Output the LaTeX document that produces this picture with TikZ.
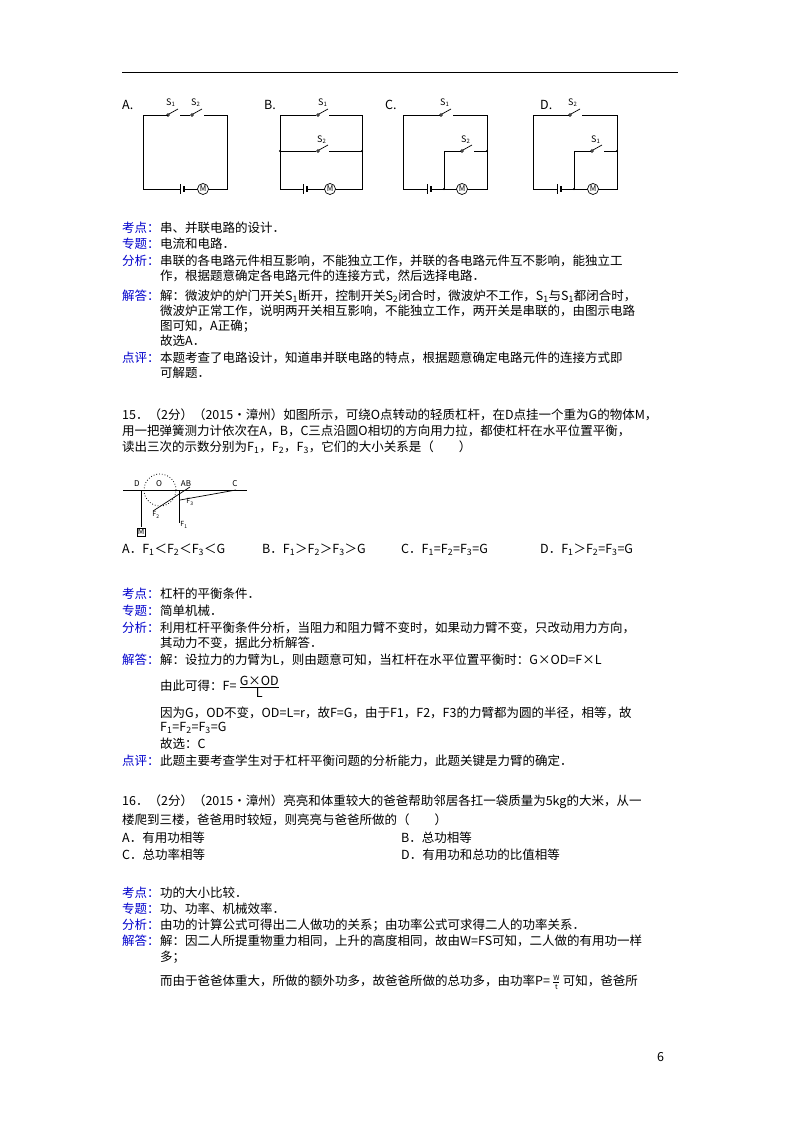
\documentclass[tikz,border=0pt]{standalone}
\usepackage{fontspec}
\setmainfont{Noto Sans CJK SC}
\begin{document}
\begin{tikzpicture}[x=1pt,y=-1pt,
 t/.style={anchor=west,inner sep=0pt,font=\fontsize{12.5}{13}\selectfont},
 lb/.style={t,text=blue!80!black},
 w/.style={line width=0.7pt},
 sm/.style={inner sep=0pt,font=\fontsize{8}{8}\selectfont},
]
\useasboundingbox (0,0) rectangle (800,1132);
\fill[white] (0,0) rectangle (800,1132);
\draw[line width=0.8pt] (122,72) -- (678,72);
\def\swt#1#2{\draw[w] (#1,#2) circle (1.3pt); \draw[w] (#1+1,#2-1) -- (#1+10,#2-6);}
\def\bat#1#2{\draw[w] (#1,#2-5) -- (#1,#2+5); \draw[line width=1.4pt] (#1+4,#2-3) -- (#1+4,#2+3);}
\def\mot#1#2{\draw[w,fill=white] (#1,#2) circle (5.5pt); \node[inner sep=0pt,font=\fontsize{8}{8}\selectfont] at (#1,#2) {M};}
% A
\node[t] (la) at (122,105) {A.};
\draw[w] (168,115) -- (143,115) -- (143,189) -- (180,189);
\draw[w] (184,189) -- (227,189) -- (227,115) -- (204,115);
\draw[w] (180,115) -- (190,115);
\swt{168}{115}\swt{192}{115}
\bat{180}{189}\mot{203}{189}
\node[t,font=\fontsize{9}{9}\selectfont] at (166,103) {S\textsubscript{1}};
\node[t,font=\fontsize{9}{9}\selectfont] at (191,103) {S\textsubscript{2}};
% B
\node[t] (lb) at (264,105) {B.};
\draw[w] (316,115) -- (280,115) -- (280,189) -- (303,189);
\draw[w] (307,189) -- (362,189) -- (362,115) -- (329,115);
\draw[w] (316,151) -- (280,151); \draw[w] (329,151) -- (362,151);
\fill (280,151) circle (1.2pt); \fill (362,151) circle (1.2pt);
\swt{318}{115}\swt{318}{151}
\bat{303}{189}\mot{330}{189}
\node[t,font=\fontsize{9}{9}\selectfont] at (318,103) {S\textsubscript{1}};
\node[t,font=\fontsize{9}{9}\selectfont] at (317,140) {S\textsubscript{2}};
% C
\node[t] (lc) at (385,105) {C.};
\draw[w] (440,115) -- (403,115) -- (403,189) -- (427,189);
\draw[w] (431,189) -- (487,189) -- (487,115) -- (453,115);
\draw[w] (444,189) -- (444,151) -- (461,151); \draw[w] (474,151) -- (487,151);
\fill (444,189) circle (1.2pt); \fill (487,151) circle (1.2pt);
\swt{441}{115}\swt{462}{151}
\bat{427}{189}\mot{462}{189}
\node[t,font=\fontsize{9}{9}\selectfont] at (440,103) {S\textsubscript{1}};
\node[t,font=\fontsize{9}{9}\selectfont] at (461,140) {S\textsubscript{2}};
% D
\node[t] (ld) at (540,105) {D.};
\draw[w] (569,115) -- (533,115) -- (533,189) -- (557,189);
\draw[w] (561,189) -- (617,189) -- (617,115) -- (582,115);
\draw[w] (574,189) -- (574,151) -- (591,151); \draw[w] (604,151) -- (617,151);
\fill (574,189) circle (1.2pt); \fill (617,151) circle (1.2pt);
\swt{570}{115}\swt{592}{151}
\bat{557}{189}\mot{593}{189}
\node[t,font=\fontsize{9}{9}\selectfont] at (568,103) {S\textsubscript{2}};
\node[t,font=\fontsize{9}{9}\selectfont] at (591,140) {S\textsubscript{1}};
% analysis 14
\node[lb] at (122,228) {考点：}; \node[t] at (160,228) {串、并联电路的设计．};
\node[lb] at (122,244) {专题：}; \node[t] at (160,244) {电流和电路．};
\node[lb] at (122,261) {分析：}; \node[t] at (160,261) {串联的各电路元件相互影响，不能独立工作，并联的各电路元件互不影响，能独立工};
\node[t] at (160,276) {作，根据题意确定各电路元件的连接方式，然后选择电路．};
\node[lb] at (122,296) {解答：}; \node[t] at (160,296) {解：微波炉的炉门开关S\textsubscript{1}断开，控制开关S\textsubscript{2}闭合时，微波炉不工作，S\textsubscript{1}与S\textsubscript{1}都闭合时，};
\node[t] at (160,311) {微波炉正常工作，说明两开关相互影响，不能独立工作，两开关是串联的，由图示电路};
\node[t] at (160,326) {图可知，A正确；};
\node[t] at (160,341) {故选A．};
\node[lb] at (122,358) {点评：}; \node[t] at (160,358) {本题考查了电路设计，知道串并联电路的特点，根据题意确定电路元件的连接方式即};
\node[t] at (160,373) {可解题．};
% 15
\node[t] at (122,415) {15．（2分）（2015•漳州）如图所示，可绕O点转动的轻质杠杆，在D点挂一个重为G的物体M，};
\node[t] at (122,431) {用一把弹簧测力计依次在A，B，C三点沿圆O相切的方向用力拉，都使杠杆在水平位置平衡，};
\node[t] at (122,447) {读出三次的示数分别为F\textsubscript{1}，F\textsubscript{2}，F\textsubscript{3}，它们的大小关系是（\quad\quad）};
% lever
\coordinate (D) at (141,490); \coordinate (O) at (160,490); \coordinate (A) at (179,490);
\coordinate (C) at (236,490);
\draw[w] (123,490) -- (247,490);
\draw[dotted,thick] (O) circle (16pt);
\draw[w] (D) -- (141,527);
\node[draw,inner sep=1pt,font=\fontsize{8}{8}\selectfont] (M) at (141,532) {M};
\draw[w] (A) -- (179,523);
\draw[w] (C) -- (180,500);
\draw[w] (190,487) -- (153,511);
\node[sm] at (137,484) {D};
\node[sm] at (159,484) {O};
\node[sm] at (186,484) {AB};
\node[sm] at (235,484) {C};
\node[inner sep=0pt,font=\fontsize{7}{7}\selectfont] at (184,525) {F\textsubscript{1}};
\node[inner sep=0pt,font=\fontsize{7}{7}\selectfont] at (156,515) {F\textsubscript{2}};
\node[inner sep=0pt,font=\fontsize{7}{7}\selectfont] at (190,502) {F\textsubscript{3}};
% options 15
\node[t] at (122,550) {A．F\textsubscript{1}＜F\textsubscript{2}＜F\textsubscript{3}＜G};
\node[t] at (262,550) {B．F\textsubscript{1}＞F\textsubscript{2}＞F\textsubscript{3}＞G};
\node[t] at (401,550) {C．F\textsubscript{1}=F\textsubscript{2}=F\textsubscript{3}=G};
\node[t] at (540,550) {D．F\textsubscript{1}＞F\textsubscript{2}=F\textsubscript{3}=G};
\node[lb] at (122,594) {考点：}; \node[t] at (160,594) {杠杆的平衡条件．};
\node[lb] at (122,611) {专题：}; \node[t] at (160,611) {简单机械．};
\node[lb] at (122,628) {分析：}; \node[t] at (160,628) {利用杠杆平衡条件分析，当阻力和阻力臂不变时，如果动力臂不变，只改动用力方向，};
\node[t] at (160,643) {其动力不变，据此分析解答．};
\node[lb] at (122,660) {解答：}; \node[t] at (160,660) {解：设拉力的力臂为L，则由题意可知，当杠杆在水平位置平衡时：G×OD=F×L};
\node[t] at (160,687) {由此可得：F=\,$\frac{\mbox{G×OD}}{\mbox{L}}$};
\node[t] at (160,713) {因为G，OD不变，OD=L=r，故F=G，由于F1，F2，F3的力臂都为圆的半径，相等，故};
\node[t] at (160,728) {F\textsubscript{1}=F\textsubscript{2}=F\textsubscript{3}=G};
\node[t] at (160,744) {故选：C};
\node[lb] at (122,761) {点评：}; \node[t] at (160,761) {此题主要考查学生对于杠杆平衡问题的分析能力，此题关键是力臂的确定．};
% 16
\node[t] at (122,802) {16．（2分）（2015•漳州）亮亮和体重较大的爸爸帮助邻居各扛一袋质量为5kg的大米，从一};
\node[t] at (122,820) {楼爬到三楼，爸爸用时较短，则亮亮与爸爸所做的（\quad\quad）};
\node[t] at (122,838) {A．有用功相等}; \node[t] at (401,838) {B．总功相等};
\node[t] at (122,855) {C．总功率相等}; \node[t] at (401,855) {D．有用功和总功的比值相等};
\node[lb] at (122,893) {考点：}; \node[t] at (160,893) {功的大小比较．};
\node[lb] at (122,909) {专题：}; \node[t] at (160,909) {功、功率、机械效率．};
\node[lb] at (122,925) {分析：}; \node[t] at (160,925) {由功的计算公式可得出二人做功的关系；由功率公式可求得二人的功率关系．};
\node[lb] at (122,941) {解答：}; \node[t] at (160,941) {解：因二人所提重物重力相同，上升的高度相同，故由W=FS可知，二人做的有用功一样};
\node[t] at (160,957) {多；};
\node[t] at (160,982) {而由于爸爸体重大，所做的额外功多，故爸爸所做的总功多，由功率P=\,$\frac{\mbox{\scriptsize W}}{\mbox{\scriptsize t}}$\,可知，爸爸所};
\node[t] at (657,1057) {6};
\end{tikzpicture}
\end{document}
